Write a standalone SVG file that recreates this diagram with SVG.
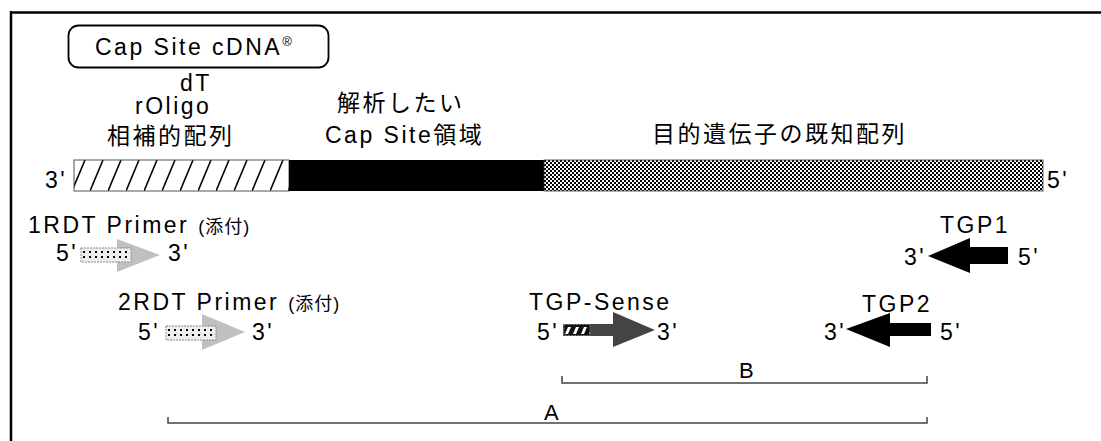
<svg xmlns="http://www.w3.org/2000/svg" width="1101" height="441" viewBox="0 0 1101 441">
<style>
text{font-family:"Liberation Sans","Noto Sans CJK JP",sans-serif;font-size:23px;letter-spacing:2.5px;fill:#000}
.sm{font-size:18px;letter-spacing:1px}
.lbl{font-size:22px;letter-spacing:0}
.brk{fill:none;stroke:#444;stroke-width:1.5}
</style>
<defs>
<pattern id="hatch" patternUnits="userSpaceOnUse" x="0" y="160" width="18" height="31">
<rect width="18" height="31" fill="#fff"/>
<line x1="0" y1="31" x2="13" y2="0" stroke="#000" stroke-width="1.6"/>
</pattern>
<pattern id="checker" patternUnits="userSpaceOnUse" x="0" y="0" width="4" height="4">
<rect width="4" height="4" fill="#fff"/>
<rect width="2" height="2" fill="#000"/>
<rect x="2" y="2" width="2" height="2" fill="#000"/>
</pattern>
<pattern id="dots" patternUnits="userSpaceOnUse" x="0" y="0" width="6" height="14">
<rect width="6" height="14" fill="#eee"/>
<rect x="2" y="3" width="2" height="2" fill="#000"/>
<rect x="2" y="8" width="2" height="2" fill="#000"/>
</pattern>
<pattern id="sensehatch" patternUnits="userSpaceOnUse" x="0" y="0" width="8" height="12">
<rect width="8" height="12" fill="#111"/>
<polygon points="2,10 5,10 8,3 5,3" fill="#fff"/>
</pattern>
</defs>

<g id="frame">
<line x1="10" y1="12.5" x2="1101" y2="12.5" stroke="#000" stroke-width="2.5"/>
<line x1="11" y1="11" x2="11" y2="441" stroke="#000" stroke-width="2.5"/>
</g>

<g id="title">
<rect x="68.5" y="25.5" width="260" height="42" rx="10" fill="#fff" stroke="#000" stroke-width="1.8"/>
<text x="95" y="55">Cap Site cDNA<tspan font-size="13" dy="-9" letter-spacing="0">®</tspan></text>
</g>

<g id="labels">
<text x="180" y="91">dT</text>
<text x="135" y="114">rOligo</text>
<text x="107" y="144">相補的配列</text>
<text x="337" y="111">解析したい</text>
<text x="325" y="143">Cap Site領域</text>
<text x="652" y="142">目的遺伝子の既知配列</text>
</g>

<g id="cdna">
<text x="45" y="188">3'</text>
<rect x="74" y="160" width="215" height="31" fill="url(#hatch)" stroke="#555" stroke-width="1"/>
<rect x="289" y="160" width="255" height="31" fill="#000"/>
<rect x="544" y="160" width="499" height="31" fill="url(#checker)" stroke="#333" stroke-width="0.8"/>
<text x="1047" y="188">5'</text>
</g>

<g id="primer1">
<text x="28" y="233">1RDT Primer <tspan class="sm">(添付)</tspan></text>
<text x="56" y="261">5'</text>
<g transform="translate(81,248)">
<polygon points="36,-9 36,24 79,7" fill="#c0c0c0"/>
<rect x="0" y="0" width="50" height="14" fill="url(#dots)" stroke="#888" stroke-width="1" stroke-dasharray="2,1"/>
</g>
<text x="168" y="261">3'</text>
</g>

<g id="primer2">
<text x="118" y="310">2RDT Primer <tspan class="sm">(添付)</tspan></text>
<text x="138" y="340">5'</text>
<g transform="translate(166,326)">
<polygon points="36,-12 36,24 79,6" fill="#c0c0c0"/>
<rect x="0" y="0" width="50" height="14" fill="url(#dots)" stroke="#888" stroke-width="1" stroke-dasharray="2,1"/>
</g>
<text x="252" y="340">3'</text>
</g>

<g id="tgp-sense">
<text x="529" y="310">TGP-Sense</text>
<text x="537" y="340">5'</text>
<g transform="translate(563,324)">
<rect x="0" y="0" width="52" height="12" fill="#444"/>
<polygon points="50,-12 50,23 92,6" fill="#444"/>
<rect x="1" y="0.5" width="26" height="11" fill="url(#sensehatch)" stroke="#888" stroke-width="0.8" stroke-dasharray="2,1"/>
</g>
<text x="657" y="340">3'</text>
</g>

<g id="tgp1">
<text x="940" y="233">TGP1</text>
<text x="904" y="265">3'</text>
<polygon points="928,256 970,238 970,247 1008,247 1008,264 970,264 970,273" fill="#000"/>
<text x="1018" y="265">5'</text>
</g>

<g id="tgp2">
<text x="862" y="312">TGP2</text>
<text x="824" y="340">3'</text>
<polygon points="846,329 890,313 890,323 931,323 931,336 890,336 890,347" fill="#000"/>
<text x="940" y="340">5'</text>
</g>

<g id="connectors">
<polyline class="brk" points="562,376 562,383 927,383 927,376"/>
<polyline class="brk" points="168,417 168,423 927,423 927,417"/>
</g>
<g id="range-labels">
<text class="lbl" x="739" y="378">B</text>
<text class="lbl" x="544" y="420">A</text>
</g>
</svg>
